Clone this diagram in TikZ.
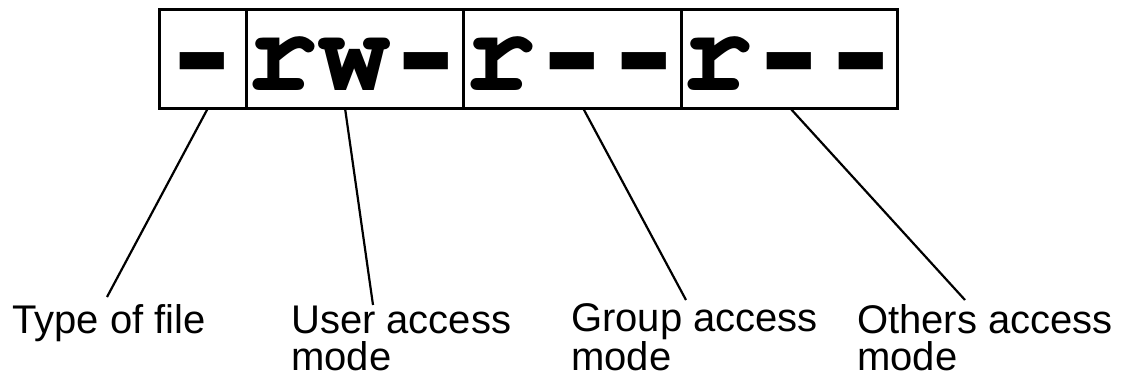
\documentclass[tikz,border=0pt]{standalone}
\usepackage{fontspec}
\usepackage{graphicx}
\setmainfont{Liberation Sans}
\newfontfamily\lmono{Liberation Mono}
\newcommand{\courb}{\fontencoding{T1}\fontfamily{pcr}\fontseries{b}\selectfont}
\newcommand{\dsh}{\makebox[0.6em]{\raisebox{-8pt}{\scalebox{1.3}[1.2]{\lmono\bfseries -}}}}
\begin{document}
\begin{tikzpicture}[x=1pt,y=-1pt,
  cell/.style={draw=black,line width=3pt,inner sep=0pt,minimum height=99pt},
  perm/.style={inner sep=0pt,anchor=base,font=\courb\fontsize{120}{120}\selectfont},
  lbl/.style={inner sep=0pt,anchor=base west,align=left,font=\fontsize{40}{37}\selectfont},
  lead/.style={line width=2.2pt}]
\useasboundingbox (0,0) rectangle (1127,378);
\node[cell,minimum width=87pt] (c1) at (202.5,58.5) {};
\node[cell,minimum width=217pt] (c2) at (354.5,58.5) {};
\node[cell,minimum width=218pt] (c3) at (572,58.5) {};
\node[cell,minimum width=216pt] (c4) at (789,58.5) {};
\node[perm] (p1) at (202.5,90) {\dsh};
\node[perm] (p2) at (354.5,90) {rw\dsh};
\node[perm] (p3) at (572,90) {r\dsh\dsh};
\node[perm] (p4) at (789,90) {r\dsh\dsh};
\node[lbl] (l1) at (12,333) {Type of file};
\node[lbl] (l2) at (291,370) {User access\\mode};
\node[lbl] (l3) at (571,370) {Group access\\mode};
\node[lbl] (l4) at (857,370) {Others access\\mode};
\coordinate (s1) at (208,108);
\coordinate (s2) at (345,108);
\coordinate (s3) at (583,108);
\coordinate (s4) at (790,108);
\coordinate (e1) at (107,297);
\coordinate (e2) at (373,305);
\coordinate (e3) at (686,300);
\coordinate (e4) at (965,300);
\draw[lead] (s1) -- (e1);
\draw[lead] (s2) -- (e2);
\draw[lead] (s3) -- (e3);
\draw[lead] (s4) -- (e4);
\end{tikzpicture}
\end{document}
